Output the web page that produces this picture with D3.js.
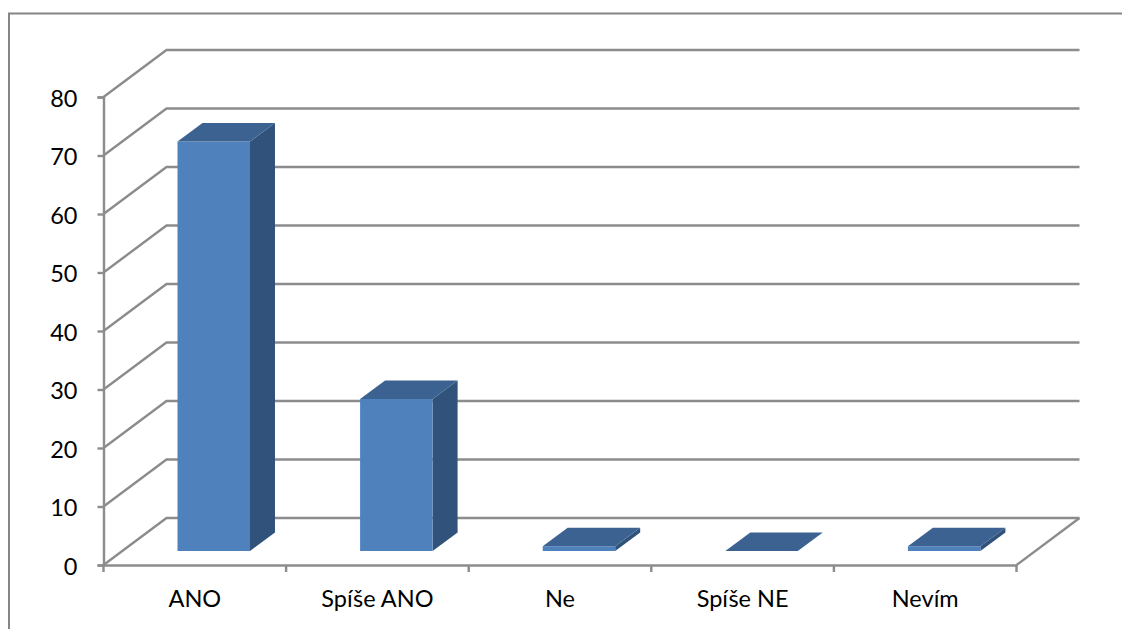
<!DOCTYPE html>
<html><head><meta charset="utf-8">
<script src="https://cdn.jsdelivr.net/npm/d3@7"></script>
<style>html,body{margin:0;padding:0;background:#fff}svg{display:block}text{font-family:Lato,"Open Sans",sans-serif;fill:#000}</style>
</head><body><svg id="c" width="1122" height="629"></svg>
<script>
const categories = ["ANO","Spíše ANO","Ne","Spíše NE","Nevím"];
const values = [70,26,0.8,0,0.8];
const yTicks = [0,10,20,30,40,50,60,70,80];

const svg = d3.select("#c");
const grid = "#8c8c8c";
const sw = 2.4;
const x0 = 103.5, x1 = 1016.5, yB = 565, yT = 97;
const depth = {dx:63, dy:-47};
const barDepth = {dx:25, dy:-18.5};
const barBase = {dx:0, dy:-14};

const x = d3.scaleBand().domain(categories).range([x0,x1]);
const y = d3.scaleLinear().domain([0,80]).range([yB,yT]);
const barW = 72.5, barOff = 74;
const line = d3.line();

// chart frame: open at right and bottom, as in the reference
svg.append("path").attr("d",line([[9,630],[9,13.5],[1123,13.5]])).attr("fill","none").attr("stroke","#868686").attr("stroke-width",2);

// walls
const g = svg.append("g").attr("fill","none").attr("stroke",grid).attr("stroke-width",sw);
g.selectAll("path.grid").data(yTicks).join("path").attr("class","grid")
  .attr("d",d=>line([[x0,y(d)],[x0+depth.dx,y(d)+depth.dy],[x1+depth.dx,y(d)+depth.dy]]));
g.append("path").attr("d",line([[x1+depth.dx,yB+depth.dy],[x1,yB]]));

// axes
const axY = svg.append("g").attr("transform",`translate(${x0},0)`)
  .call(d3.axisLeft(y).tickValues(yTicks).tickSize(6).tickPadding(20).tickFormat(d3.format("d")));
const axX = svg.append("g").attr("transform",`translate(0,${yB})`)
  .call(d3.axisBottom(x).tickSize(0).tickPadding(25));
[axY,axX].forEach(a=>{a.selectAll("path.domain").attr("stroke",grid).attr("stroke-width",sw);
  a.selectAll("line").attr("stroke",grid).attr("stroke-width",sw);
  a.selectAll("text").attr("font-size",23.5).attr("font-family",'Lato').attr("fill","#000");});
axY.selectAll("text").attr("transform","translate(0,1.5)");
svg.append("g").selectAll("line").data(categories.concat(["end"])).join("line")
  .attr("x1",(d,i)=>i<categories.length?x(d):x1).attr("x2",(d,i)=>i<categories.length?x(d):x1)
  .attr("y1",yB).attr("y2",yB+7).attr("stroke",grid).attr("stroke-width",sw);

// bars
const bars = svg.append("g").selectAll("g").data(categories).join("g");
const L = d=>x(d)+barOff, R = d=>L(d)+barW, B = ()=>yB+barBase.dy;
const v = d=>values[categories.indexOf(d)];
const H = d=>yB-y(v(d));
bars.append("path").attr("fill","#31537B")
  .attr("d",d=>line([[R(d),B()],[R(d),B()-H(d)],[R(d)+barDepth.dx,B()-H(d)+barDepth.dy],[R(d)+barDepth.dx,B()+barDepth.dy]])+"Z");
bars.append("path").attr("fill","#4F81BD")
  .attr("d",d=>line([[L(d),B()],[L(d),B()-H(d)],[R(d),B()-H(d)],[R(d),B()]])+"Z");
bars.append("path").attr("fill","#3C6291")
  .attr("d",d=>line([[L(d),B()-H(d)],[L(d)+barDepth.dx,B()-H(d)+barDepth.dy],[R(d)+barDepth.dx,B()-H(d)+barDepth.dy],[R(d),B()-H(d)]])+"Z");
</script></body></html>
